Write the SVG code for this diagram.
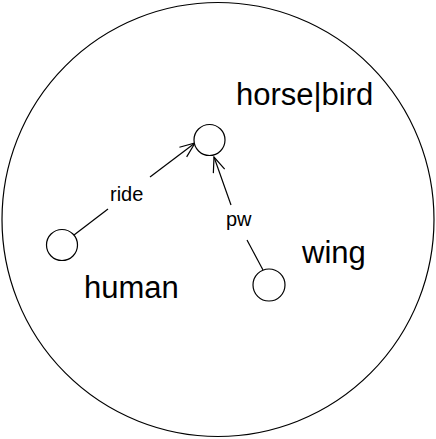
<svg xmlns="http://www.w3.org/2000/svg" width="436" height="439" viewBox="0 0 436 439">
<style>
.n{fill:#fff;stroke:#000;stroke-width:1.2}
.e{stroke:#000;stroke-width:1.2;fill:none}
.big{font-family:"Liberation Sans",Arial,sans-serif;font-size:31px;fill:#000}
.lbl{font-family:"Liberation Sans",Arial,sans-serif;font-size:20px;fill:#000}
</style>
<defs>
<marker id="arr" viewBox="-16 -8 18 16" refX="0" refY="0" markerWidth="18" markerHeight="16" markerUnits="userSpaceOnUse" orient="auto">
<polyline points="-15,-6 0,0 -15,6" fill="none" stroke="#000" stroke-width="1.2"/>
</marker>
</defs>
<rect width="436" height="439" fill="#fff"/>
<ellipse cx="218" cy="219.5" rx="216" ry="217" fill="none" stroke="#000" stroke-width="1.2"/>
<g id="connectors">
<g id="edge-ride">
<line class="e" x1="74" y1="235" x2="108" y2="209"/>
<line class="e" x1="150" y1="177" x2="195" y2="143" marker-end="url(#arr)"/>
<text class="lbl" x="110" y="201">ride</text>
</g>
<g id="edge-pw">
<line class="e" x1="263" y1="270" x2="247" y2="240"/>
<line class="e" x1="231" y1="205" x2="214" y2="157" marker-end="url(#arr)"/>
<text class="lbl" x="226" y="226">pw</text>
</g>
</g>
<g id="node-horsebird">
<circle class="n" cx="209.5" cy="140" r="15.5"/>
<text class="big" x="236" y="105">horse|bird</text>
</g>
<g id="node-human">
<circle class="n" cx="62" cy="245" r="15.5"/>
<text class="big" x="84" y="298">human</text>
</g>
<g id="node-wing">
<circle class="n" cx="269" cy="285" r="16"/>
<text class="big" x="302" y="263">wing</text>
</g>
</svg>
